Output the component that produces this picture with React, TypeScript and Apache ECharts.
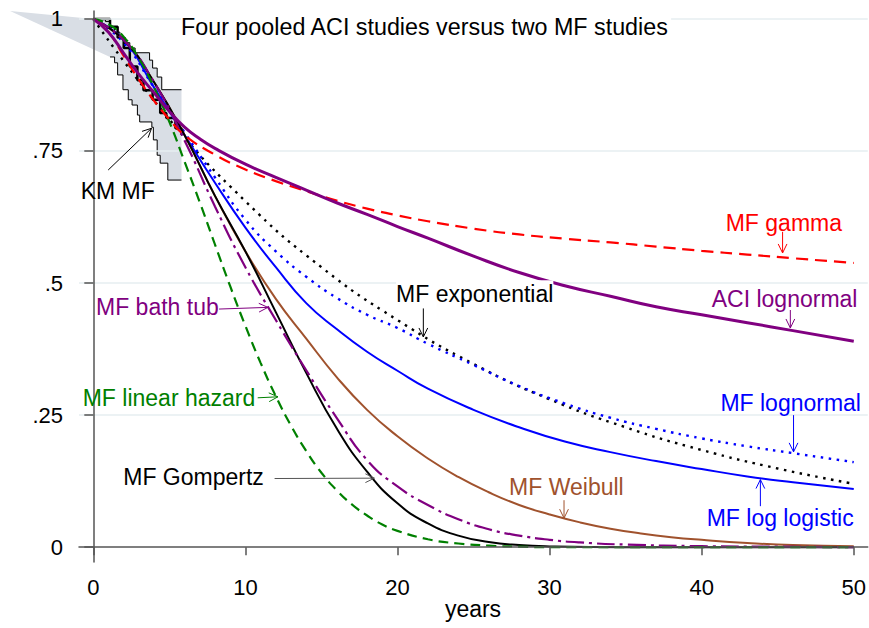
import React, { useEffect, useRef } from "react";
import * as echarts from "echarts";

// ---- axis ticks ----
const xTickValues = [0, 10, 20, 30, 40, 50];
const yTickValues = [0, 0.25, 0.5, 0.75, 1];
const yTickLabels = ["0", ".25", ".5", ".75", "1"];
const gridValues = [0.25, 0.5, 0.75, 1];

// ---- Kaplan-Meier (MF) with confidence band ----
const kmT = [0, 1.1, 1.6, 2.0, 2.4, 2.9, 3.3, 3.9, 4.4, 4.8, 5.4, 5.8];
const kmS = [1, 0.985, 0.965, 0.945, 0.91, 0.884, 0.865, 0.847, 0.822, 0.8125, 0.793, 0.786];
const upT = [0, 0.8, 1.1, 1.4, 1.75, 2.1, 2.4, 2.75, 3.7, 3.9, 4.2, 4.5, 5.8];
const upS = [1, 0.995, 0.985, 0.975, 0.965, 0.955, 0.945, 0.936, 0.922, 0.907, 0.89, 0.866, 0.866];
const loT = [1.1, 1.4, 1.6, 1.95, 2.3, 2.55, 2.9, 3.05, 3.85, 3.95, 4.2, 4.4, 4.9, 5.8];
const loS = [0.928, 0.917, 0.894, 0.866, 0.847, 0.837, 0.818, 0.805, 0.795, 0.771, 0.742, 0.727, 0.695, 0.695];
const bandStart = [-5.47, 1.015];

// ---- fitted survival curves ----
const aciT = [0, 1, 2, 3, 4, 5, 6, 7, 8, 10, 12, 14, 16, 18, 20, 22, 25, 28, 31, 34, 37, 40, 43, 46, 50];
const aciS = [1, 0.975, 0.935, 0.895, 0.86, 0.825, 0.795, 0.773, 0.755, 0.725, 0.7, 0.676, 0.652, 0.63, 0.607, 0.585, 0.551, 0.52, 0.495, 0.475, 0.455, 0.44, 0.425, 0.41, 0.39];

const gamT = [0, 1, 2, 3, 4, 5, 6, 8, 10, 12, 14, 16, 18, 20, 22, 25, 28, 31, 34, 37, 40, 43, 46, 50];
const gamS = [1, 0.975, 0.93, 0.885, 0.845, 0.81, 0.78, 0.743, 0.715, 0.693, 0.674, 0.656, 0.641, 0.628, 0.617, 0.603, 0.592, 0.584, 0.577, 0.569, 0.561, 0.554, 0.547, 0.538];

const expT = [0, 5, 10, 15, 20, 25, 30, 35, 40, 45, 50];
const expS = [1, 0.81, 0.655, 0.53, 0.43, 0.347, 0.28, 0.227, 0.184, 0.149, 0.12];

const lnT = [0, 2, 4, 6, 8, 10, 12, 14, 16, 18, 20, 22, 25, 28, 31, 34, 37, 40, 43, 46, 50];
const lnS = [1, 0.955, 0.87, 0.785, 0.7, 0.62, 0.56, 0.512, 0.472, 0.44, 0.415, 0.385, 0.345, 0.305, 0.272, 0.245, 0.224, 0.206, 0.191, 0.178, 0.161];

const llT = [0, 2, 4, 6, 8, 10, 12, 14, 16, 18, 20, 22, 25, 28, 31, 34, 37, 40, 43, 46, 50];
const llS = [1, 0.96, 0.87, 0.78, 0.69, 0.605, 0.53, 0.462, 0.413, 0.37, 0.334, 0.3, 0.26, 0.227, 0.2, 0.18, 0.163, 0.148, 0.134, 0.123, 0.11];

const wbT = [0, 2, 4, 6, 8, 10, 12, 14, 16, 18, 20, 22, 24, 26, 28, 30, 32, 34, 36, 38, 40, 43, 46, 50];
const wbS = [1, 0.96, 0.88, 0.78, 0.665, 0.56, 0.47, 0.395, 0.322, 0.26, 0.21, 0.168, 0.133, 0.104, 0.08, 0.062, 0.047, 0.035, 0.026, 0.019, 0.014, 0.008, 0.004, 0.002];

const gzT = [0, 2, 4, 6, 8, 10, 12, 14, 16, 18, 20, 22, 24, 26, 28, 30, 35, 40, 45, 50];
const gzS = [1, 0.96, 0.88, 0.78, 0.665, 0.56, 0.445, 0.33, 0.225, 0.143, 0.083, 0.045, 0.022, 0.01, 0.004, 0.0015, 0, 0, 0, 0];

const btT = [0, 2, 4, 6, 8, 10, 12, 14, 16, 18, 20, 22, 24, 26, 28, 30, 32, 35, 40, 45, 50];
const btS = [1, 0.96, 0.88, 0.77, 0.645, 0.53, 0.43, 0.335, 0.245, 0.165, 0.115, 0.08, 0.053, 0.034, 0.022, 0.014, 0.009, 0.005, 0.002, 0.001, 0];

const lhT = [0, 1, 2, 3, 4, 5, 6, 7, 8, 9, 10, 11, 12, 13, 14, 15, 16, 17, 18, 19, 20, 22, 24, 26, 28, 30, 40, 50];
const lhS = [1, 0.99, 0.966, 0.925, 0.87, 0.805, 0.73, 0.653, 0.573, 0.494, 0.419, 0.349, 0.286, 0.23, 0.182, 0.141, 0.108, 0.081, 0.06, 0.043, 0.031, 0.015, 0.007, 0.003, 0.001, 0, 0, 0];

// ---- colours ----
const PURPLE = "#800080";
const RED = "#ff0000";
const BLUE = "#0000ff";
const BROWN = "#a0522d";
const GREEN = "#008000";
const BLACK = "#000000";

// ---- annotations (data coordinates) ----
const labels = [
  { text: "KM MF", color: BLACK, arrow: BLACK, at: [-0.827, 0.675], from: [0.98, 0.714], to: [3.83, 0.793] },
  { text: "MF gamma", color: RED, arrow: RED, at: [41.58, 0.6136], from: [45.32, 0.597], to: [45.32, 0.557] },
  { text: "ACI lognormal", color: PURPLE, arrow: PURPLE, at: [40.66, 0.4697], from: [45.83, 0.449], to: [45.83, 0.415] },
  { text: "MF lognormal", color: BLUE, arrow: BLUE, at: [41.23, 0.2727], from: [46.04, 0.25], to: [46.04, 0.1805] },
  { text: "MF log logistic", color: BLUE, arrow: BLUE, at: [40.33, 0.0549], from: [43.86, 0.0777], to: [43.86, 0.128] },
  { text: "MF Weibull", color: BROWN, arrow: BROWN, at: [27.34, 0.1136], from: [30.95, 0.089], to: [30.95, 0.055] },
  { text: "MF Gompertz", color: BLACK, arrow: "#555555", at: [1.97, 0.1335], from: [11.92, 0.13], to: [18.48, 0.1307] },
  { text: "MF bath tub", color: PURPLE, arrow: PURPLE, at: [0.177, 0.4555], from: [8.27, 0.4508], to: [11.48, 0.454] },
  { text: "MF linear hazard", color: GREEN, arrow: GREEN, at: [-0.696, 0.2831], from: [10.81, 0.2828], to: [12.14, 0.2847] },
  { text: "MF exponential", color: BLACK, arrow: BLACK, at: [19.91, 0.479], from: [21.7, 0.452], to: [21.7, 0.398], bg: true },
];

const FONT = '"Liberation Sans", Arial, Helvetica, sans-serif';

const zip = (t: number[], s: number[]) => t.map((v, i) => [v, s[i]]);

function stepPath(t: number[], s: number[]) {
  const pts: number[][] = [];
  for (let i = 0; i < t.length; i++) {
    pts.push([t[i], s[i]]);
    if (i < t.length - 1) pts.push([t[i + 1], s[i]]);
  }
  return pts;
}

function curve(name: string, t: number[], s: number[], color: string, width: number, type: any) {
  return {
    name,
    type: "line",
    data: zip(t, s),
    showSymbol: false,
    symbol: "none",
    smooth: true,
    lineStyle: { color, width, type, cap: "butt" },
    z: 5,
  };
}

export default function App() {
  const ref = useRef<HTMLDivElement>(null);
  useEffect(() => {
    document.body.style.margin = "0";
    const chart = echarts.init(ref.current!, null, { renderer: "svg" });
    const upper = stepPath(upT, upS);
    const lower = stepPath(loT, loS);
    const bandPts = [bandStart, ...upper, ...lower.slice().reverse()];

    const option: any = {
      animation: false,
      textStyle: { fontFamily: FONT },
      grid: { left: 79, right: 0, top: 11, bottom: 66, containLabel: false },
      xAxis: {
        type: "value",
        min: -0.94,
        max: 50.92,
        z: 10,
        axisLine: { show: true, lineStyle: { color: "#555", width: 1.5 } },
        axisTick: { show: true, length: 8, customValues: xTickValues, lineStyle: { color: "#555", width: 1.5 } },
        axisLabel: { customValues: xTickValues, color: "#000", fontSize: 22, margin: 14, fontFamily: FONT },
        splitLine: { show: false },
      },
      yAxis: {
        type: "value",
        min: -0.028,
        max: 1.015,
        z: 10,
        axisLine: { show: true, lineStyle: { color: "#555", width: 1.5 } },
        axisTick: { show: true, length: 9, customValues: yTickValues, lineStyle: { color: "#555", width: 1.5 } },
        axisLabel: {
          customValues: yTickValues,
          color: "#000",
          fontSize: 22,
          margin: 16,
          fontFamily: FONT,
          formatter: (v: number) => {
            const i = yTickValues.findIndex((x) => Math.abs(x - v) < 1e-9);
            return i >= 0 ? yTickLabels[i] : "";
          },
        },
        splitLine: { show: false },
      },
      series: [
        {
          type: "line",
          data: [],
          silent: true,
          z: 1,
          markLine: {
            silent: true,
            symbol: ["none", "none"],
            label: { show: false },
            lineStyle: { color: "#e6eef0", width: 1.6, type: "solid" },
            emphasis: { disabled: true },
            data: gridValues.map((v) => ({ yAxis: v })),
          },
        },
        {
          type: "custom",
          clip: false,
          silent: true,
          z: 2,
          data: [[0, 1]],
          renderItem: (params: any, api: any) => ({
            type: "polygon",
            shape: { points: bandPts.map((p) => api.coord(p)) },
            style: { fill: "#d9dee5", stroke: "none" },
          }),
        },
        {
          type: "line",
          data: zip(upT, upS),
          step: "end",
          showSymbol: false,
          symbol: "none",
          lineStyle: { color: "#000", width: 1 },
          z: 3,
        },
        {
          type: "line",
          data: zip(loT, loS),
          step: "end",
          showSymbol: false,
          symbol: "none",
          lineStyle: { color: "#000", width: 1 },
          z: 3,
        },
        {
          type: "line",
          data: zip(kmT, kmS),
          step: "end",
          showSymbol: false,
          symbol: "none",
          lineStyle: { color: "#000", width: 2.5 },
          z: 4,
        },
        curve("MF exponential", expT, expS, BLACK, 2.4, [2.5, 5.5]),
        curve("MF lognormal", lnT, lnS, BLUE, 2.4, [2.5, 5.5]),
        curve("MF log logistic", llT, llS, BLUE, 2, "solid"),
        curve("MF Weibull", wbT, wbS, BROWN, 2, "solid"),
        curve("MF Gompertz", gzT, gzS, BLACK, 2, "solid"),
        curve("MF bath tub", btT, btS, PURPLE, 2.2, [18, 5, 3, 5]),
        curve("MF linear hazard", lhT, lhS, GREEN, 2.2, [10, 6]),
        curve("MF gamma", gamT, gamS, RED, 2.2, [12, 7]),
        curve("ACI lognormal", aciT, aciS, PURPLE, 3, "solid"),
      ],
    };
    chart.setOption(option);

    const px = (p: number[]) => chart.convertToPixel({ gridIndex: 0 }, p) as number[];
    const elements: any[] = [];
    labels.forEach((l) => {
      const a = px(l.at);
      elements.push({
        type: "text",
        x: a[0],
        y: a[1],
        z: 20,
        style: {
          text: l.text,
          fill: l.color,
          fontSize: 23,
          fontFamily: FONT,
          align: "left",
          verticalAlign: "middle",
          backgroundColor: (l as any).bg ? "#ffffff" : undefined,
          padding: (l as any).bg ? [3, 0, 2, 0] : 0,
        },
      });
      const f = px(l.from);
      const t = px(l.to);
      const dx = t[0] - f[0];
      const dy = t[1] - f[1];
      const len = Math.sqrt(dx * dx + dy * dy) || 1;
      const ux = dx / len;
      const uy = dy / len;
      const L = 10;
      const th = (26 * Math.PI) / 180;
      const c = Math.cos(th);
      const s = Math.sin(th);
      const h1 = [t[0] - L * (ux * c - uy * s), t[1] - L * (uy * c + ux * s)];
      const h2 = [t[0] - L * (ux * c + uy * s), t[1] - L * (uy * c - ux * s)];
      elements.push({
        type: "line",
        z: 20,
        shape: { x1: f[0], y1: f[1], x2: t[0], y2: t[1] },
        style: { stroke: l.arrow, lineWidth: 1 },
      });
      elements.push({
        type: "polyline",
        z: 20,
        shape: { points: [h1, t, h2] },
        style: { stroke: l.arrow, lineWidth: 1, fill: "none" },
      });
    });
    elements.push({
      type: "text",
      x: 181,
      y: 26.5,
      z: 20,
      style: {
        text: "Four pooled ACI studies versus two MF studies",
        fill: "#000",
        fontSize: 23.3,
        fontFamily: FONT,
        align: "left",
        verticalAlign: "middle",
        backgroundColor: "#ffffff",
        padding: [3, 2, 3, 0],
      },
    });
    elements.push({
      type: "text",
      x: 473,
      y: 609,
      z: 20,
      style: {
        text: "years",
        fill: "#000",
        fontSize: 23,
        fontFamily: FONT,
        align: "center",
        verticalAlign: "middle",
      },
    });
    chart.setOption({ graphic: elements });
    return () => chart.dispose();
  }, []);
  return <div ref={ref} style={{ width: 869, height: 628 }} />;
}
